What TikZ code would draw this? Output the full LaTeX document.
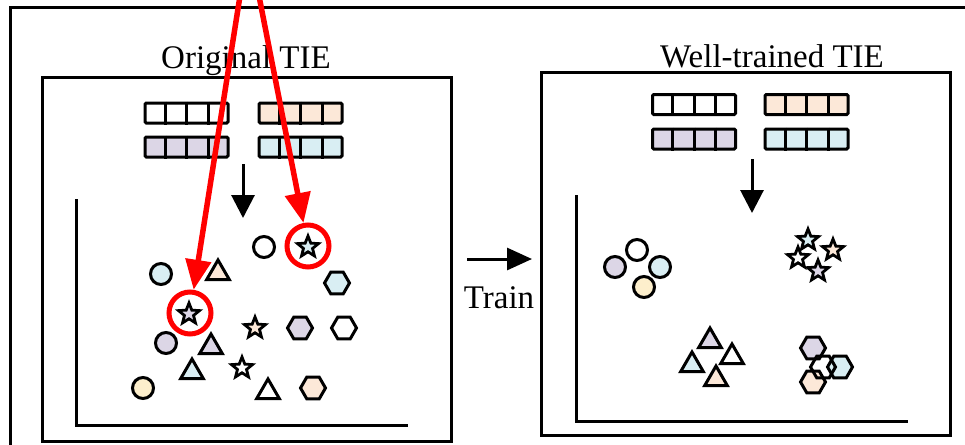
\documentclass[tikz,border=0pt]{standalone}
\usepackage{fontspec}
\setmainfont{Liberation Serif}
\usetikzlibrary{shapes.geometric,arrows.meta,calc}

\definecolor{cPurple}{HTML}{DCD6E6}
\definecolor{cBlue}{HTML}{D9EEF3}
\definecolor{cOrange}{HTML}{FCE8D8}
\definecolor{cYellow}{HTML}{FDEFCC}
\definecolor{cRed}{HTML}{FF0000}

\tikzset{
  frame/.style={draw, line width=3pt},
  axisline/.style={line width=3pt},
  dot/.style={circle, draw, line width=3pt, minimum size=21pt, inner sep=0pt},
  tri/.style={regular polygon, regular polygon sides=3, draw, line width=3pt,
    minimum size=26pt, inner sep=0pt},
  hexa/.style={regular polygon, regular polygon sides=6, draw, line width=3pt,
    minimum size=25pt, inner sep=0pt},
  starn/.style={star, star points=5, star point ratio=2.3, draw, line width=2.8pt,
    minimum size=22pt, inner sep=0pt},
  ring/.style={circle, draw=cRed, line width=5pt, minimum size=42pt, inner sep=0pt},
  cellbar/.style={draw, line width=3pt, rounded corners=1.2pt,
    minimum width=83pt, minimum height=20pt, inner sep=0pt},
  blackarrow/.style={line width=3pt, -{Triangle[width=23pt,length=23pt]}},
  redarrow/.style={draw=cRed, line width=5.5pt, -{Triangle[width=25pt,length=30pt]}},
  title/.style={font=\fontsize{33}{40}\selectfont, anchor=base, inner sep=0pt},
}

% an embedding bar of four cells
\newcommand{\embbar}[4]{%
  \node[cellbar, fill=#4] (#1) at (#2,#3) {};
  \foreach \f in {0.25,0.5,0.75}
    \draw[line width=3pt] ($(#1.north west)!\f!(#1.north east)$) -- ($(#1.south west)!\f!(#1.south east)$);
}

\begin{document}
\begin{tikzpicture}[x=1pt, y=-1pt]
\useasboundingbox (0,0) rectangle (965,444);

% outer frame
\draw[frame] (10,460) -- (10,8) -- (980,8);

% ---------- left panel ----------
\node[title] (ltitle) at (246,68) {Original TIE};
\draw[frame] (42,77) rectangle (451,441);

\embbar{la}{186.5}{113}{white}
\embbar{lb}{300.5}{113}{cOrange}
\embbar{lc}{186.5}{147}{cPurple}
\embbar{ld}{300.5}{147}{cBlue}

\coordinate (larrs) at (243,164);
\coordinate (larre) at (243,218);
\draw[blackarrow] (larrs) -- (larre);

\draw[axisline] (76,199) -- (76,425) -- (408,425);

\node[dot] (lc1) at (264,247) {};
\node[dot, fill=cBlue] (lc2) at (161,274) {};
\node[dot, fill=cPurple] (lc3) at (166,343) {};
\node[dot, fill=cYellow] (lc4) at (143,388) {};

\node[tri, fill=cOrange] (lt1) at (218,273) {};
\node[tri, fill=cPurple] (lt2) at (211,347) {};
\node[tri, fill=cBlue] (lt3) at (192,372) {};
\node[tri] (lt4) at (268,392) {};

\node[hexa, fill=cBlue] (lh1) at (337,283) {};
\node[hexa, fill=cPurple] (lh2) at (300,328) {};
\node[hexa] (lh3) at (344,328) {};
\node[hexa, fill=cOrange] (lh4) at (313,388) {};

\node[starn, fill=cBlue] (ls1) at (308,247) {};
\node[starn, fill=cPurple] (ls2) at (189,314) {};
\node[starn, fill=cOrange] (ls3) at (255,328) {};
\node[starn] (ls4) at (242,368) {};

\node[ring] (ring1) at (308,246) {};
\node[ring] (ring2) at (190,313) {};

% ---------- training step ----------
\coordinate (trs) at (467,259);
\coordinate (tre) at (532,259);
\draw[line width=3pt, -{Triangle[width=22pt,length=25pt]}] (trs) -- (tre);
\node[title] (train) at (499,308) {Train};

% ---------- right panel ----------
\node[title] (rtitle) at (772,67) {Well-trained TIE};
\draw[frame] (541,72) rectangle (950,435);

\embbar{ra}{694}{104.5}{white}
\embbar{rb}{806.5}{104.5}{cOrange}
\embbar{rc}{694}{139}{cPurple}
\embbar{rd}{806.5}{139}{cBlue}

\coordinate (rarrs) at (752,159);
\coordinate (rarre) at (752,213);
\draw[blackarrow] (rarrs) -- (rarre);

\draw[axisline] (576,195) -- (576,421) -- (908,421);

\node[dot] (rc1) at (637,250) {};
\node[dot, fill=cPurple] (rc2) at (615,267) {};
\node[dot, fill=cBlue] (rc3) at (660,267) {};
\node[dot, fill=cYellow] (rc4) at (644,287) {};

\node[starn, fill=cBlue] (rs1) at (808,240) {};
\node[starn, fill=cOrange] (rs2) at (833,250) {};
\node[starn] (rs3) at (798,258) {};
\node[starn, fill=cPurple] (rs4) at (818,271) {};

\node[tri, fill=cPurple] (rt1) at (710,341) {};
\node[tri] (rt2) at (732,357) {};
\node[tri, fill=cBlue] (rt3) at (692,365) {};
\node[tri, fill=cOrange] (rt4) at (716,379) {};

\node[hexa, fill=cPurple] (rh1) at (813,348) {};
\node[hexa, fill=cBlue] (rh2) at (840,367) {};
\node[hexa, fill=cOrange] (rh3) at (813,382) {};
\node[hexa] (rh4) at (823,367) {};

% ---------- highlighted samples ----------
\coordinate (src1) at (240,-4);
\coordinate (src2) at (259,-4);
\draw[redarrow] (src1) -- (ring2);
\draw[redarrow] (src2) -- (ring1);
\end{tikzpicture}
\end{document}
